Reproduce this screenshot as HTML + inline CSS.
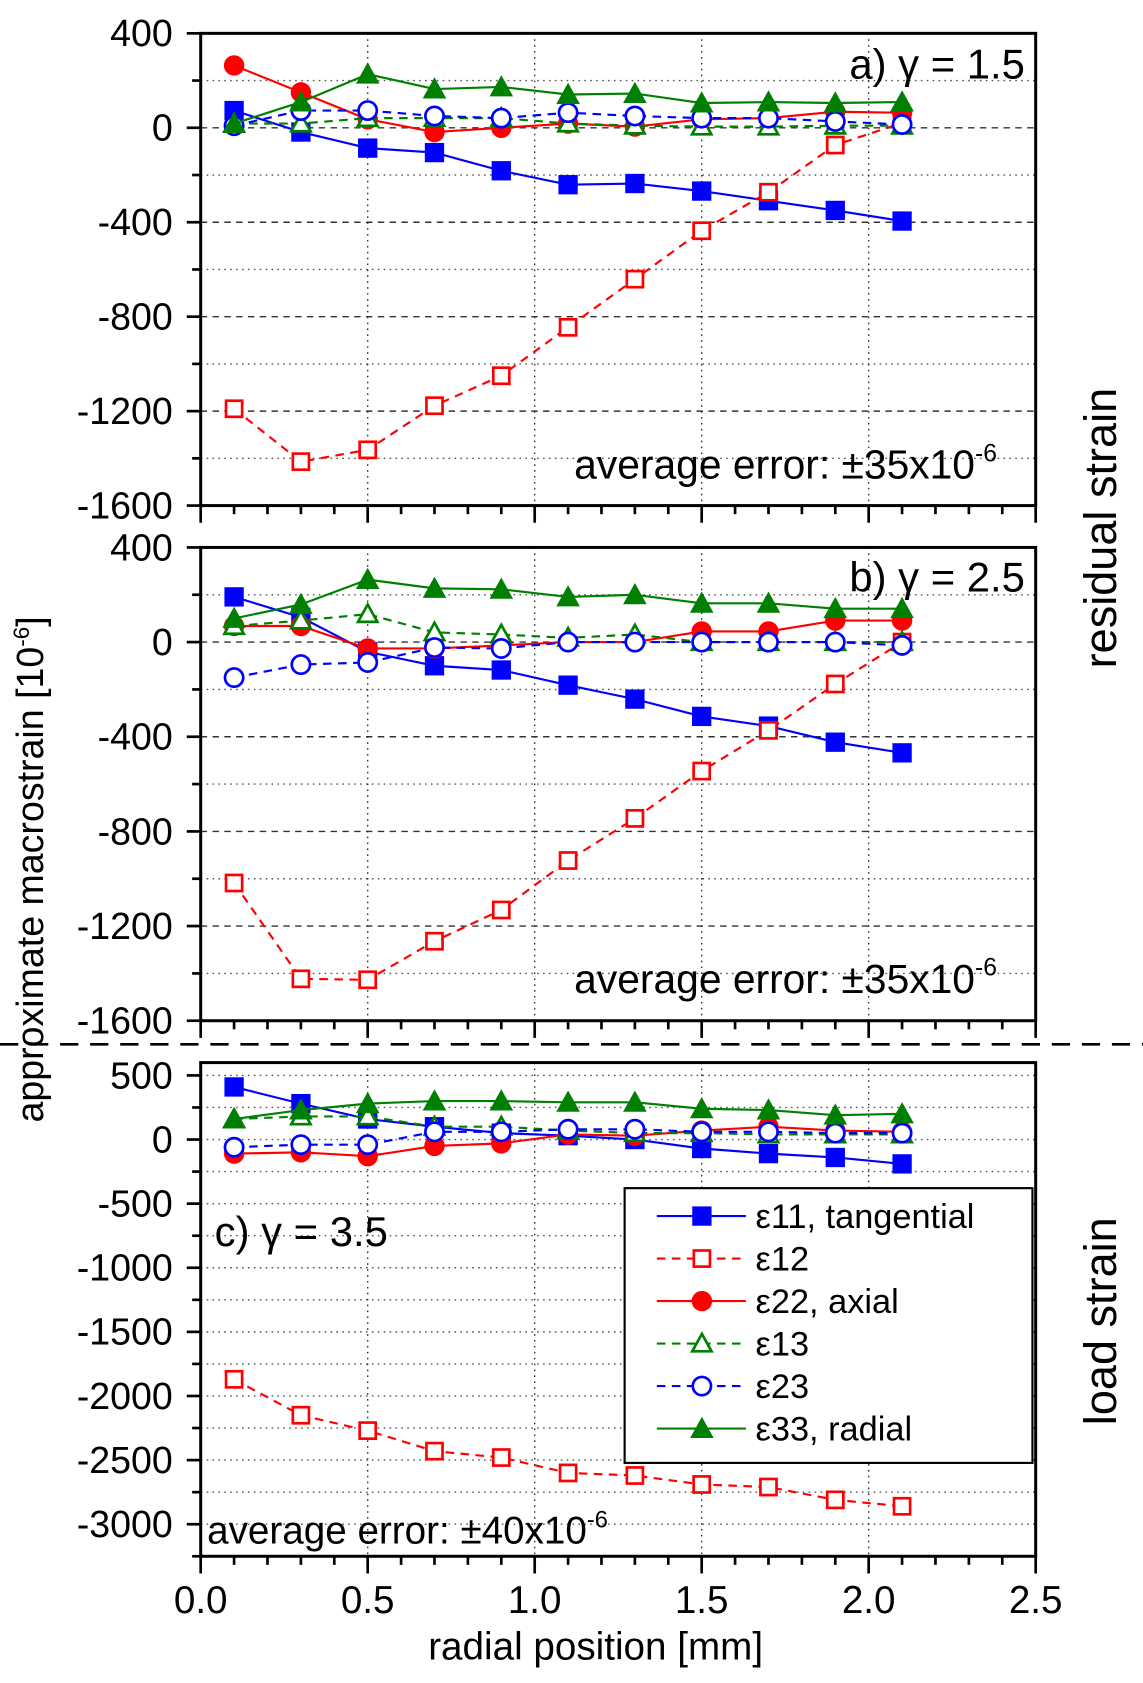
<!DOCTYPE html>
<html><head><meta charset="utf-8"><style>
html,body{margin:0;padding:0;background:#fff;}
svg{display:block;font-family:"Liberation Sans",Arial,sans-serif;}
</style></head><body>
<svg id="chart" width="1143" height="1683" viewBox="0 0 1065 1568" xmlns="http://www.w3.org/2000/svg"></svg>
<script>
const xVals=[0.1,0.3,0.5,0.7,0.9,1.1,1.3,1.5,1.7,1.9,2.1];
const xTicks=[0.0,0.5,1.0,1.5,2.0,2.5];
// panel a (gamma 1.5)
const a_e11=[73,-18,-86,-105,-182,-241,-236,-268,-309,-350,-395];
const a_e12=[-1190,-1414,-1364,-1177,-1050,-845,-641,-436,-273,-73,20];
const a_e22=[264,150,36,-18,0,18,5,36,41,68,64];
const a_e13=[18,18,41,41,41,18,9,5,5,9,9];
const a_e23=[9,73,73,50,41,64,50,41,41,27,14];
const a_e33=[18,109,227,164,173,141,145,105,109,105,109];
// panel b (gamma 2.5)
const b_e11=[191,105,-41,-100,-118,-182,-241,-314,-355,-423,-468];
const b_e12=[-1018,-1423,-1427,-1264,-1132,-923,-745,-545,-373,-177,0];
const b_e22=[68,68,-27,-27,-14,0,0,45,45,91,91];
const b_e13=[68,91,118,41,32,18,32,0,0,0,0];
const b_e23=[-150,-95,-86,-23,-27,0,0,0,0,0,-14];
const b_e33=[100,159,264,227,223,191,200,164,164,141,141];
// panel c (gamma 3.5)
const c_e11=[410,280,160,100,50,30,0,-70,-110,-140,-190];
const c_e12=[-1870,-2150,-2270,-2430,-2480,-2600,-2620,-2690,-2710,-2810,-2860];
const c_e22=[-110,-100,-130,-50,-30,40,30,70,100,70,60];
const c_e13=[160,180,180,100,100,70,50,50,40,40,40];
const c_e23=[-60,-40,-40,60,60,80,80,60,60,50,50];
const c_e33=[160,230,280,300,300,290,290,240,230,190,200];
const abTicks=[400,0,-400,-800,-1200,-1600];
const cTicks=[500,0,-500,-1000,-1500,-2000,-2500,-3000];

const NS="http://www.w3.org/2000/svg";
const svg=document.getElementById('chart');
function el(tag,attrs,parent){const e=document.createElementNS(NS,tag);for(const k in attrs)e.setAttribute(k,attrs[k]);(parent||svg).appendChild(e);return e;}
const L=187,R=965;
const xs=v=>L+(v-0)/2.5*(R-L);

const series=[
 {key:'e11',color:'#0000ff',dash:null,marker:'sq',fill:true,name:'ε11, tangential'},
 {key:'e12',color:'#ff0000',dash:'8,6',marker:'sq',fill:false,name:'ε12'},
 {key:'e22',color:'#ff0000',dash:null,marker:'ci',fill:true,name:'ε22, axial'},
 {key:'e13',color:'#008000',dash:'8,6',marker:'tr',fill:false,name:'ε13'},
 {key:'e23',color:'#0000ff',dash:'8,6',marker:'ci',fill:false,name:'ε23'},
 {key:'e33',color:'#008000',dash:null,marker:'tr',fill:true,name:'ε33, radial'}];

function marker(g,type,cx,cy,color,fill){
  const sw=fill?0:2.5,f=fill?color:'#fff';
  if(type==='sq') return el('rect',{x:cx-(fill?9:7.5),y:cy-(fill?9:7.5),width:fill?18:15,height:fill?18:15,fill:f,stroke:color,'stroke-width':sw},g);
  if(type==='ci') return el('circle',{cx:cx,cy:cy,r:fill?9.5:8.5,fill:f,stroke:color,'stroke-width':sw},g);
  const s=fill?11:9;
  return el('polygon',{points:`${cx},${cy-s} ${cx+s},${cy+s*0.8} ${cx-s},${cy+s*0.8}`,fill:f,stroke:color,'stroke-width':sw},g);
}

function panel(id,top,bot,ymin,ymax,ticks,minorStep,data,dashedMajor){
  const g=el('g',{});
  
  
  const ys=v=>bot-(v-ymin)/(ymax-ymin)*(bot-top);
  for(let v=Math.ceil(ymin/minorStep)*minorStep; v<=ymax; v+=minorStep){
    const major=ticks.includes(v);
    if(v===ymin||v===ymax)continue;
    const isDash=dashedMajor&&major;
    el('line',{x1:L,x2:R,y1:ys(v),y2:ys(v),stroke:isDash?'#333':'#555','stroke-width':1.3,'stroke-dasharray':isDash?'6,5':'1.5,4'},g);
  }
  [0.5,1.0,1.5,2.0].forEach(v=>el('line',{x1:xs(v),x2:xs(v),y1:top,y2:bot,stroke:'#333','stroke-width':1.3,'stroke-dasharray':'1.5,4'},g));
  for(let v=Math.ceil(ymin/minorStep)*minorStep; v<=ymax; v+=minorStep){
    const major=ticks.includes(v);
    el('line',{x1:L-(major?13:8),x2:L,y1:ys(v),y2:ys(v),stroke:'#000','stroke-width':2.5},g);
  }
  ticks.forEach(v=>{const t=el('text',{x:L-26,y:ys(v)+12,'text-anchor':'end','font-size':35},g);t.textContent=v;
    
    });
  for(let i=0;i<=25;i++){const v=i*0.1;const major=i%5===0;
    el('line',{x1:xs(v),x2:xs(v),y1:bot,y2:bot+(major?16:8),stroke:'#000','stroke-width':2.5},g);}
  el('rect',{x:L,y:top,width:R-L,height:bot-top,fill:'none',stroke:'#000','stroke-width':2.8},g);
  series.forEach(s=>{
    const vals=data[s.key];
    const sg=el('g',{},g);
    
    
    const pts=vals.map((v,i)=>xs(xVals[i])+','+ys(v)).join(' ');
    const pl=el('polyline',{points:pts,fill:'none',stroke:s.color,'stroke-width':2},sg);
    if(s.dash)pl.setAttribute('stroke-dasharray',s.dash);
    vals.forEach((v,i)=>{const m=marker(sg,s.marker,xs(xVals[i]),ys(v),s.color,s.fill);
      
      });
  });
  return {g,ys};
}

panel('a',31,471,-1600,400,abTicks,200,{e11:a_e11,e12:a_e12,e22:a_e22,e13:a_e13,e23:a_e23,e33:a_e33},true);
panel('b',510,951,-1600,400,abTicks,200,{e11:b_e11,e12:b_e12,e22:b_e22,e13:b_e13,e23:b_e23,e33:b_e33},true);
panel('c',990,1450,-3250,600,cTicks,250,{e11:c_e11,e12:c_e12,e22:c_e22,e13:c_e13,e23:c_e23,e33:c_e33},false);

xTicks.forEach(v=>{const t=el('text',{x:xs(v),y:1503,'text-anchor':'middle','font-size':36});t.textContent=v.toFixed(1);
  
  });

const sep=el('line',{x1:0,x2:1065,y1:973,y2:973,stroke:'#000','stroke-width':2.5,'stroke-dasharray':'17,11'});



const lg=el('g',{});


el('rect',{x:582,y:1107,width:380,height:256,fill:'#fff',stroke:'#000','stroke-width':2},lg);
series.forEach((s,i)=>{
  const y=1133+i*39.6;
  const eg=el('g',{},lg);
  
  
  const ln=el('line',{x1:612,x2:695,y1:y,y2:y,stroke:s.color,'stroke-width':2},eg);
  if(s.dash)ln.setAttribute('stroke-dasharray','8,6');
  marker(eg,s.marker,654,y,s.color,s.fill);
  const t=el('text',{x:704,y:y+11,'font-size':32},eg);t.textContent=s.name;
});
</script>
<svg style="position:absolute;left:0;top:0" width="1143" height="1683" viewBox="0 0 1065 1568" xmlns="http://www.w3.org/2000/svg" font-family="Liberation Sans, Arial, sans-serif">
<text x="955" y="73" text-anchor="end" font-size="39">a)  γ = 1.5</text>
<text x="955" y="551" text-anchor="end" font-size="39">b)  γ = 2.5</text>
<text x="200" y="1161" font-size="39">c)  γ = 3.5</text>
<text x="535" y="446" font-size="38">average error: ±35x10<tspan dy="-16" font-size="23">-6</tspan></text>
<text x="535" y="925" font-size="38">average error: ±35x10<tspan dy="-16" font-size="23">-6</tspan></text>
<text x="193" y="1438" font-size="36">average error: ±40x10<tspan dy="-15" font-size="22">-6</tspan></text>
<text x="555" y="1546" text-anchor="middle" font-size="36">radial position [mm]</text>
<text transform="translate(40,810) rotate(-90)" text-anchor="middle" font-size="35">approximate macrostrain [10<tspan dy="-13" font-size="21">-6</tspan><tspan dy="13">]</tspan></text>
<text transform="translate(1040,492) rotate(-90)" text-anchor="middle" font-size="42">residual strain</text>
<text transform="translate(1040,1231) rotate(-90)" text-anchor="middle" font-size="42">load strain</text>
</svg>
</body></html>
